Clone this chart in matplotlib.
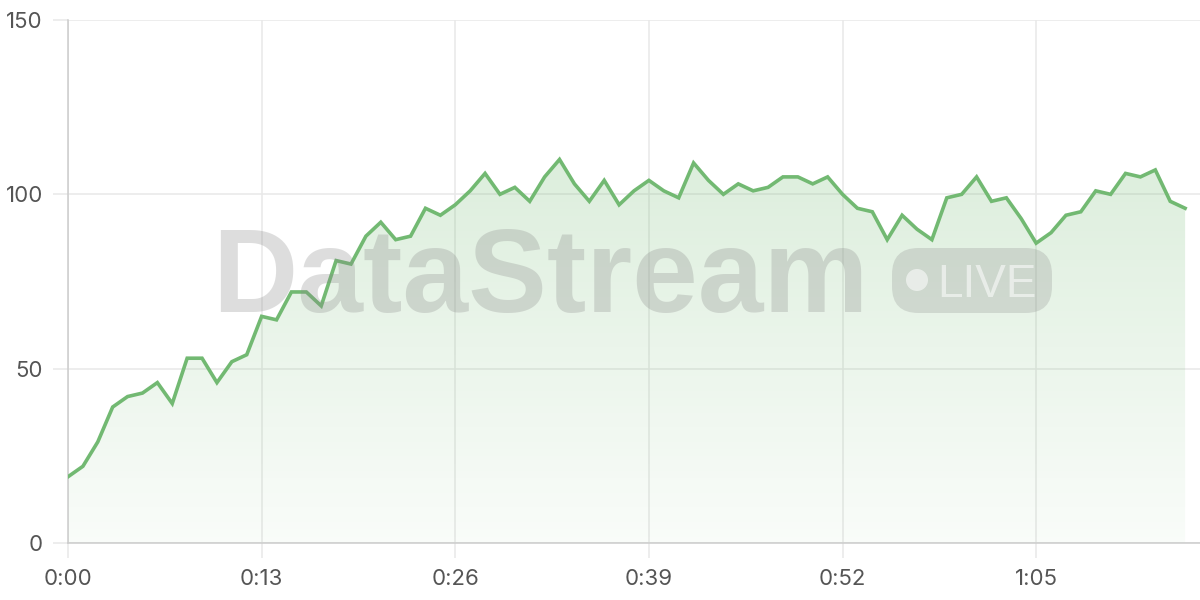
import matplotlib
matplotlib.use("Agg")
import matplotlib.pyplot as plt
import numpy as np
from matplotlib.patches import FancyBboxPatch, Ellipse
from matplotlib.colors import LinearSegmentedColormap

values = [19, 22, 29, 39, 42, 43, 46, 40, 53, 53,
          46, 52, 54, 65, 64, 72, 72, 68, 81, 80,
          88, 92, 87, 88, 96, 94, 97, 101, 106, 100,
          102, 98, 105, 110, 103, 98, 104, 97, 101, 104,
          101, 99, 109, 104, 100, 103, 101, 102, 105, 105,
          103, 105, 100, 96, 95, 87, 94, 90, 87, 99,
          100, 105, 98, 99, 93, 86, 89, 94, 95, 101,
          100, 106, 105, 107, 98, 96]
seconds = list(range(len(values)))
x_ticks = [0, 13, 26, 39, 52, 65]
x_tick_labels = ["0:00", "0:13", "0:26", "0:39", "0:52", "1:05"]
y_ticks = [0, 50, 100, 150]
watermark = "DataStream"
badge = "LIVE"

plt.rcParams['font.family'] = ['Inter', 'DejaVu Sans']

fig = plt.figure(figsize=(12, 6), dpi=100)
ax = fig.add_axes([68/1200, 57/600, 1132/1200, 523/600])
ax.set_xlim(0, 76)
ax.set_ylim(0, 150)

line_color = "#72b972"
x = np.array(seconds)
y = np.array(values)

# gradient fill
poly = ax.fill_between(x, y, 0, color="none", lw=0)
grad = np.linspace(0, 1, 256).reshape(-1, 1)
cmap = LinearSegmentedColormap.from_list("g", [(0.45, 0.73, 0.45, 0.04), (0.45, 0.73, 0.45, 0.25)])
im = ax.imshow(grad, extent=[0, 76, 0, 112], origin="lower", aspect="auto", cmap=cmap, zorder=1)
im.set_clip_path(poly.get_paths()[0], transform=ax.transData)

ax.plot(x, y, color=line_color, lw=2.6, zorder=4, solid_joinstyle="miter")

ax.set_xticks(x_ticks)
ax.set_xticklabels(x_tick_labels)
ax.set_yticks(y_ticks)
ax.grid(True, color="#e8e8e8", lw=1.1, zorder=0)
ax.set_axisbelow(True)
ax.tick_params(axis="both", length=11, width=1.1, color="#e8e8e8", labelsize=16, labelcolor="#555555")
ax.tick_params(axis="y", pad=7)
ax.tick_params(axis="x", pad=8)
for s in ["top", "right"]:
    ax.spines[s].set_visible(False)
for s in ["left", "bottom"]:
    ax.spines[s].set_color("#cccccc")
    ax.spines[s].set_linewidth(1.1)

# watermark
fig.text(540/1200, 1 - 312/600, watermark, fontsize=85, fontweight="bold",
         family=["Liberation Sans", "DejaVu Sans"], color="#888888", alpha=0.28,
         ha="center", va="baseline", zorder=10)
bx0, by0, bw, bh = 892/1200, 1 - 313/600, 160/1200, 65/600
box = FancyBboxPatch((bx0, by0), bw, bh, boxstyle="round,pad=0,rounding_size=0.022",
                     transform=fig.transFigure, facecolor="#888888", alpha=0.25,
                     edgecolor="none", zorder=10, mutation_aspect=2)
fig.patches.append(box)
dot = Ellipse((917/1200, 1 - 280/600), 22/1200, 22/600, transform=fig.transFigure,
              facecolor="white", alpha=0.55, edgecolor="none", zorder=11)
fig.patches.append(dot)
fig.text(987/1200, 1 - 297/600, badge, fontsize=33, family=["Liberation Sans", "DejaVu Sans"],
         color="white", alpha=0.55, ha="center", va="baseline", zorder=11)

fig.savefig("out.png", dpi=100)
